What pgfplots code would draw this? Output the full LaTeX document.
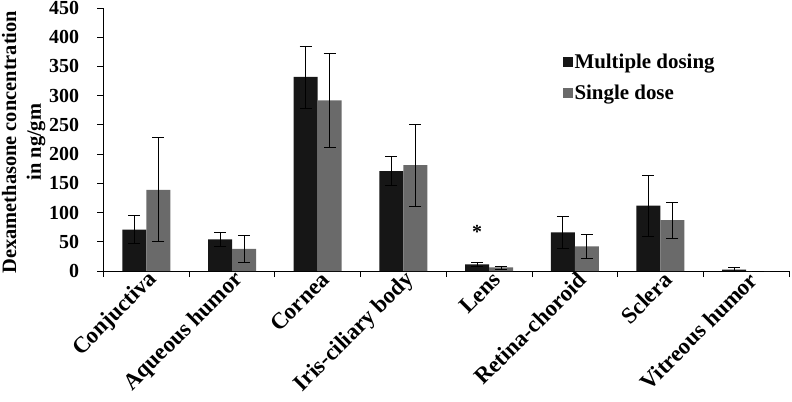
\documentclass[border=0pt]{standalone}
\usepackage{pgfplots}
\pgfplotsset{compat=1.18}
\usepackage{fontspec}
\setmainfont{Liberation Serif}
\definecolor{cblack}{HTML}{161616}
\definecolor{cgray}{HTML}{6A6A6A}
\begin{document}
\begin{tikzpicture}
\begin{axis}[
  scale only axis,
  width=685.5bp, height=263bp,
  at={(0,0)}, anchor=south west,
  ymin=0, ymax=450, ytick={0,50,...,450},
  xmin=-0.5, xmax=7.5,
  xtick={-0.5,0.5,...,7.5}, xticklabels={},
  extra x ticks={0,1,2,3,4,5,6,7},
  extra x tick labels={Conjuctiva,Aqueous humor,Cornea,Iris-ciliary body,Lens,Retina-choroid,Sclera,Vitreous humor},
  extra x tick style={major tick length=0pt, tick label style={font=\fontsize{23}{27}\selectfont\bfseries, rotate=45, anchor=east, yshift=-9bp, xshift=5bp}},
  axis x line*=bottom, axis y line*=left,
  tick align=outside, major tick length=6bp,
  tick style={black, line width=0.8pt},
  axis line style={black, line width=0.8pt},
  ticklabel style={font=\fontsize{20}{24}\selectfont\bfseries},
  /pgf/number format/assume math mode=true,
  yticklabel style={xshift=-15bp},
  ylabel={Dexamethasone concentration\\in ng/gm},
  ylabel style={font=\fontsize{20.5}{25}\selectfont\bfseries, align=center, at={(axis description cs:-0.1165,0.49)}, anchor=center},
  ybar=0pt, bar width=24bp,
  legend style={at={(0.665,0.84)}, anchor=north west, draw=none, fill=none, font=\fontsize{21}{25}\selectfont\bfseries, row sep=11bp, legend cell align=left},
  legend image code/.code={\fill[#1] (1bp,-5bp) rectangle (11bp,5bp);},
]
\addplot+[fill=cblack, draw=none, error bars/.cd, y dir=both, y explicit,
  error bar style={black, line width=0.8pt}, error mark options={rotate=90, mark size=6bp, line width=0.8pt, black}]
  coordinates {
  (0,71) +- (0,24)
  (1,54) +- (0,12)
  (2,332) +- (0,53)
  (3,171) +- (0,24.5)
  (4,11.5) +- (0,4)
  (5,66) +- (0,27)
  (6,112) +- (0,52)
  (7,2.5) +- (0,3.5)
  };
\addplot+[fill=cgray, draw=none, error bars/.cd, y dir=both, y explicit,
  error bar style={black, line width=0.8pt}, error mark options={rotate=90, mark size=6bp, line width=0.8pt, black}]
  coordinates {
  (0,139) +- (0,89)
  (1,38) +- (0,23)
  (2,292) +- (0,81)
  (3,181) +- (0,70)
  (4,6) +- (0,2.5)
  (5,42) +- (0,20)
  (6,87) +- (0,31)
  (7,0) +- (0,0)
  };
\legend{Multiple dosing, Single dose}
\node[font=\fontsize{20}{24}\selectfont\bfseries] at (axis cs:4,67) [xshift=-12bp] {*};
\end{axis}
\pgfresetboundingbox
\useasboundingbox (-103.5bp,-131bp) rectangle (688.5bp,271bp);
\end{tikzpicture}
\end{document}
